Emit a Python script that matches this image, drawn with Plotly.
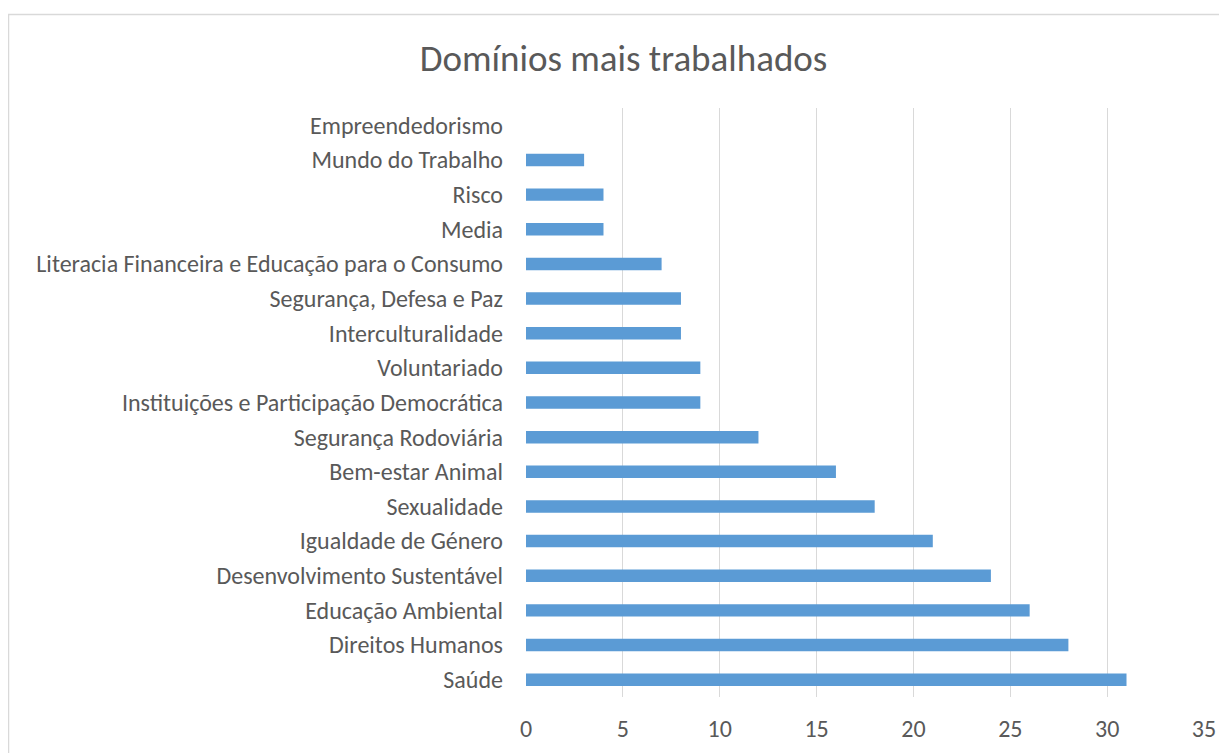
import plotly.graph_objects as go

categories = [
    "Empreendedorismo",
    "Mundo do Trabalho",
    "Risco",
    "Media",
    "Literacia Financeira e Educação para o Consumo",
    "Segurança, Defesa e Paz",
    "Interculturalidade",
    "Voluntariado",
    "Instituições e Participação Democrática",
    "Segurança Rodoviária",
    "Bem-estar Animal",
    "Sexualidade",
    "Igualdade de Género",
    "Desenvolvimento Sustentável",
    "Educação Ambiental",
    "Direitos Humanos",
    "Saúde",
]
values = [0, 3, 4, 4, 7, 8, 8, 9, 9, 12, 16, 18, 21, 24, 26, 28, 31]
x_ticks = [0, 5, 10, 15, 20, 25, 30, 35]

W, H = 1227, 753
OFF = 8  # page body margin
ml, mr, mt, mb = 526 - OFF, 31, 108 - OFF, 64
pw, ph = W - ml - mr, H - mt - mb

def px_x(p):  # p in figure pixels
    return (p - ml) / pw

def px_y(p):
    return (H - mb - p) / ph

font_family = "Carlito, Calibri, 'Open Sans', sans-serif"
text_color = "#595959"

fig = go.Figure(
    go.Bar(
        x=values,
        y=categories,
        orientation="h",
        marker=dict(color="#5b9bd5", line=dict(width=0)),
    )
)

fig.update_layout(
    width=W,
    height=H,
    margin=dict(l=ml, r=mr, t=mt, b=mb),
    paper_bgcolor="white",
    plot_bgcolor="white",
    bargap=0.64,
    showlegend=False,
    font=dict(family=font_family, color=text_color, size=24),
    title=dict(
        text="Domínios mais trabalhados",
        x=(623.5 - OFF) / W,
        xanchor="center",
        y=1 - (58 - OFF) / H,
        yanchor="middle",
        font=dict(size=37, color=text_color, family=font_family),
    ),
    shapes=[
        dict(
            type="rect",
            xref="paper",
            yref="paper",
            x0=px_x(8.5 - OFF),
            x1=px_x(1226 - OFF),
            y0=px_y(790),
            y1=px_y(14.5 - OFF),
            line=dict(color="#d9d9d9", width=1.5),
            fillcolor="rgba(0,0,0,0)",
            layer="below",
        )
    ],
)

fig.update_xaxes(
    range=[0, 35],
    tickvals=x_ticks,
    showgrid=True,
    gridcolor="#d9d9d9",
    gridwidth=1.3,
    zeroline=False,
    showline=False,
    ticks="",
    ticklabelstandoff=15,
    tickfont=dict(size=24, color=text_color),
    fixedrange=True,
)
fig.update_yaxes(
    autorange="reversed",
    showgrid=False,
    zeroline=False,
    showline=False,
    ticks="",
    ticklabelstandoff=22,
    tickfont=dict(size=24, color=text_color),
    fixedrange=True,
)

fig.write_html("out.html")
